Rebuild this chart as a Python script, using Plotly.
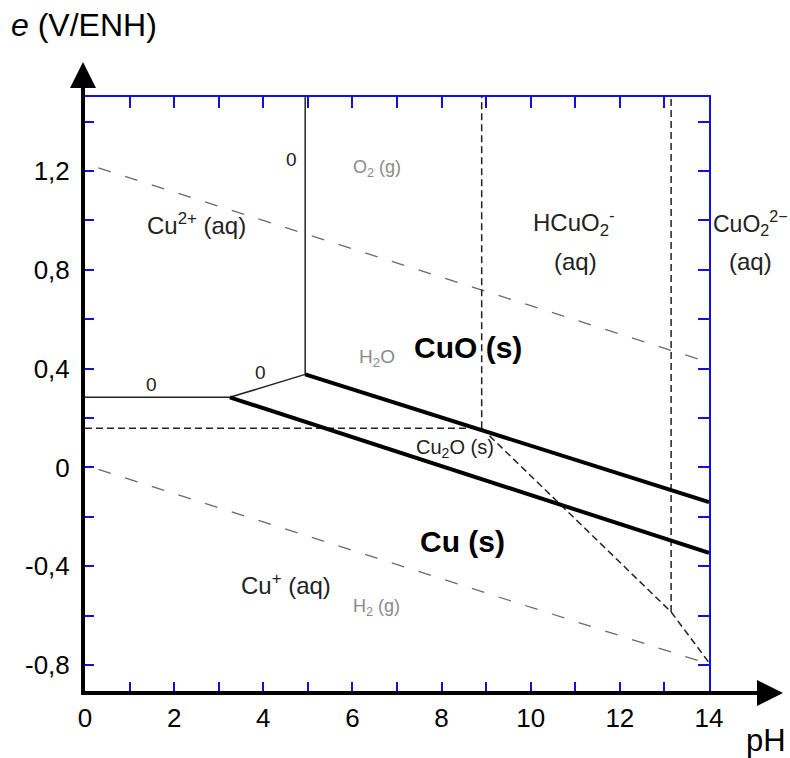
import plotly.graph_objects as go

# ---------------- data ----------------
x_range = [0, 14]
y_range = [-0.905, 1.5]

x_tick_vals = [0, 2, 4, 6, 8, 10, 12, 14]
x_tick_text = ["0", "2", "4", "6", "8", "10", "12", "14"]
x_minor_vals = [1, 3, 5, 7, 9, 11, 13]
y_tick_vals = [-0.8, -0.4, 0, 0.4, 0.8, 1.2]
y_tick_text = ["-0,8", "-0,4", "0", "0,4", "0,8", "1,2"]
y_minor_vals = [-0.6, -0.2, 0.2, 0.6, 1.0, 1.4]
frame_x_ticks = [1, 2, 3, 4, 5, 6, 7, 8, 9, 10, 11, 12, 13]
frame_y_ticks = [-0.8, -0.6, -0.4, -0.2, 0, 0.2, 0.4, 0.6, 0.8, 1.0, 1.2, 1.4]

# water stability lines (gray long dashes)
o2_ph = [0.3, 14]
o2_e = [1.213, 0.425]
h2_ph = [0.3, 14]
h2_e = [-0.008, -0.796]

# thin solid boundaries
cu2_cu_ph = [0, 3.25]
cu2_cu_e = [0.284, 0.284]
cu2_cu2o_ph = [3.25, 4.94]
cu2_cu2o_e = [0.284, 0.377]
cu2_cuo_ph = [4.94, 4.94]
cu2_cuo_e = [0.377, 1.5]

# thick solid boundaries
cuo_cu2o_ph = [4.94, 14]
cuo_cu2o_e = [0.377, -0.14]
cu2o_cu_ph = [3.25, 14]
cu2o_cu_e = [0.284, -0.346]

# black dashed boundaries
cup_ph = [0, 8.9]
cup_e = [0.159, 0.159]
hcuo2_ph = [8.9, 8.9]
hcuo2_e = [0.159, 1.5]
diag_ph = [8.9, 13.15, 14]
diag_e = [0.159, -0.585, -0.79]
cuo2_ph = [13.15, 13.15]
cuo2_e = [-0.585, 1.5]

# labels: text, pH, E, size, bold, color
label_text = ["0", "O<sub>2</sub> (g)", "Cu<sup>2+</sup> (aq)", "HCuO<sub>2</sub><sup>-</sup>", "(aq)",
              "CuO<sub>2</sub><sup>2\u2212</sup>", "(aq)", "CuO (s)", "H<sub>2</sub>O", "0", "0",
              "Cu<sub>2</sub>O (s)", "Cu (s)", "Cu<sup>+</sup> (aq)", "H<sub>2</sub> (g)"]
label_ph = [4.64, 6.55, 2.51, 10.97, 11.0, 14.92, 14.92, 8.59, 6.55, 1.5, 3.93, 8.3, 8.47, 4.51, 6.55]
label_e = [1.245, 1.21, 0.985, 0.99, 0.833, 0.99, 0.833, 0.486, 0.445, 0.336, 0.385, 0.075, -0.298, -0.472, -0.565]
label_size = [19, 18, 24, 24, 24, 23, 24, 30, 19, 19, 19, 20, 30, 24, 18]
label_bold = [False, False, False, False, False, False, False, True, False, False, False, False, True, False, False]
label_color = ["#222", "#8a8a8a", "#222", "#222", "#222", "#222", "#222", "#000", "#8a8a8a", "#222", "#222",
               "#222", "#000", "#222", "#8a8a8a"]

FONT = "Liberation Sans, Arial, sans-serif"

fig = go.Figure()

def line(xs, ys, color, width, dash="solid"):
    fig.add_trace(go.Scatter(x=xs, y=ys, mode="lines", showlegend=False, hoverinfo="skip",
                             line=dict(color=color, width=width, dash=dash)))

GRAY_DASH = "13px,15px"
BLK_DASH = "7px,4px"
line(o2_ph, o2_e, "#6a6a6a", 1.3, GRAY_DASH)
line(h2_ph, h2_e, "#6a6a6a", 1.3, GRAY_DASH)
line(cup_ph, cup_e, "#222", 1.5, BLK_DASH)
line(hcuo2_ph, hcuo2_e, "#222", 1.5, BLK_DASH)
line(diag_ph, diag_e, "#222", 1.5, BLK_DASH)
line(cuo2_ph, cuo2_e, "#222", 1.5, BLK_DASH)
line(cu2_cu_ph, cu2_cu_e, "#222", 1.5)
line(cu2_cu2o_ph, cu2_cu2o_e, "#222", 1.5)
line(cu2_cuo_ph, cu2_cuo_e, "#222", 1.5)
line(cuo_cu2o_ph, cuo_cu2o_e, "#000", 4)
line(cu2o_cu_ph, cu2o_cu_e, "#000", 4)

# hidden trace to create the top/right frame axes
fig.add_trace(go.Scatter(x=x_range, y=y_range, xaxis="x2", yaxis="y2", mode="lines",
                         line=dict(width=0), showlegend=False, hoverinfo="skip"))

x_span = x_range[1] - x_range[0]
for t, px, e, s, b, c in zip(label_text, label_ph, label_e, label_size, label_bold, label_color):
    txt = f"<b>{t}</b>" if b else t
    font = dict(family=FONT, size=s, color=c)
    if px > x_range[1]:
        # label outside the plot area: place in paper coordinates along x
        fig.add_annotation(x=(px - x_range[0]) / x_span, y=e, xref="paper", yref="y", text=txt,
                           xanchor="center", yanchor="middle", showarrow=False, font=font)
    else:
        fig.add_annotation(x=px, y=e, xref="x", yref="y", text=txt, xanchor="center",
                           yanchor="middle", showarrow=False, font=font)

# axis arrows (paper coordinates)
fig.add_annotation(x=0, y=1.059, xref="paper", yref="paper", ax=0, ay=38, axref="pixel", ayref="pixel",
                   xshift=-2, showarrow=True, arrowhead=2, arrowsize=1.3, arrowwidth=4,
                   arrowcolor="#000", text=" ", font=dict(size=1))
fig.add_annotation(x=1.1186, y=0, xref="paper", yref="paper", ax=-78, ay=0, yshift=-2,
                   showarrow=True, arrowhead=2, arrowsize=1.3, arrowwidth=4,
                   arrowcolor="#000", text=" ", font=dict(size=1))

# axis titles
fig.add_annotation(x=-0.122, y=1.122, xref="paper", yref="paper", xanchor="left", yanchor="middle",
                   text="<i>e</i> (V/ENH)", showarrow=False, font=dict(family=FONT, size=32, color="#000"))
fig.add_annotation(x=1.126, y=-0.083, xref="paper", yref="paper", xanchor="right", yanchor="middle",
                   text="pH", showarrow=False, font=dict(family=FONT, size=31, color="#000"))

fig.update_layout(
    width=790, height=758,
    margin=dict(l=85, r=81, t=97, b=67),
    paper_bgcolor="white", plot_bgcolor="white",
    xaxis=dict(range=x_range, showline=True, linecolor="#000", linewidth=4, showgrid=False,
               zeroline=False, ticks="inside", tickvals=x_tick_vals, ticktext=x_tick_text,
               tickcolor="#1010e0", ticklen=9, tickwidth=2, ticklabelstandoff=1,
               tickfont=dict(family=FONT, size=26, color="#000"),
               minor=dict(tickvals=x_minor_vals, ticks="inside", ticklen=9, tickwidth=2,
                          tickcolor="#1010e0", showgrid=False)),
    yaxis=dict(range=y_range, showline=True, linecolor="#000", linewidth=4, showgrid=False,
               zeroline=False, ticks="inside", tickvals=y_tick_vals, ticktext=y_tick_text,
               tickcolor="#1010e0", ticklen=9, tickwidth=2, ticklabelstandoff=6,
               tickfont=dict(family=FONT, size=26, color="#000"),
               minor=dict(tickvals=y_minor_vals, ticks="inside", ticklen=9, tickwidth=2,
                          tickcolor="#1010e0", showgrid=False)),
    xaxis2=dict(range=x_range, overlaying="x", side="top", anchor="y2", showline=True,
                linecolor="#1010e0", linewidth=2, showgrid=False, zeroline=False,
                ticks="inside", tickvals=frame_x_ticks, ticklen=11, tickwidth=2,
                tickcolor="#1010e0", showticklabels=False),
    yaxis2=dict(range=y_range, overlaying="y", side="right", anchor="x2", showline=True,
                linecolor="#1010e0", linewidth=2, showgrid=False, zeroline=False,
                ticks="inside", tickvals=frame_y_ticks, ticklen=11, tickwidth=2,
                tickcolor="#1010e0", showticklabels=False),
    showlegend=False,
)

fig.write_html("out.html", config={"displayModeBar": False},
               post_script="document.body.style.margin='0px';document.body.style.overflow='hidden';")
